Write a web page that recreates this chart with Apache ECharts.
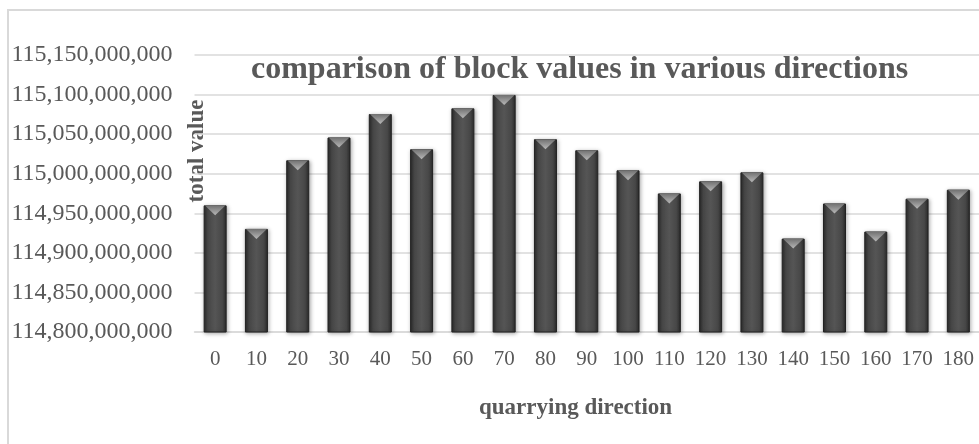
<!DOCTYPE html>
<html>
<head>
<meta charset="utf-8">
<script src="https://cdn.jsdelivr.net/npm/echarts@6/dist/echarts.min.js"></script>
<style>
html, body { margin: 0; padding: 0; background: #fff; }
#main { width: 979px; height: 444px; }
</style>
</head>
<body>
<div id="main"></div>
<script>
// quarrying directions (degrees)
var directions = ['0', '10', '20', '30', '40', '50', '60', '70', '80', '90',
	'100', '110', '120', '130', '140', '150', '160', '170', '180'];
// total block value per direction
var blockValues = [
	114960000000, 114930300000, 115017000000, 115045800000, 115075400000,
	115031000000, 115082600000, 115099500000, 115043700000, 115029700000,
	115004300000, 114975100000, 114990400000, 115001800000, 114918000000,
	114962400000, 114926900000, 114968400000, 114979800000
];
// value axis ticks
var yMin = 114800000000;
var yMax = 115150000000;
var yStep = 50000000;

var chartTitle = 'comparison of block values in various directions';
var xName = 'quarrying direction';
var yName = 'total value';

var serif = '"Liberation Serif", "Times New Roman", serif';
var textGray = '#595959';

var myChart = echarts.init(document.getElementById('main'));

var option = {
	backgroundColor: '#ffffff',
	animation: false,
	title: {
		text: chartTitle,
		left: 251,
		top: 54,
		padding: 0,
		textStyle: {
			fontFamily: serif,
			fontSize: 32,
			fontWeight: 'bold',
			color: textGray
		}
	},
	grid: {
		left: 194.5,
		top: 55,
		width: 792.2,
		height: 277,
		containLabel: false
	},
	xAxis: {
		type: 'category',
		data: directions,
		axisTick: { show: false },
		axisLine: { lineStyle: { color: '#d9d9d9', width: 1.5 } },
		axisLabel: {
			margin: 17,
			fontFamily: serif,
			fontSize: 21,
			color: textGray
		}
	},
	yAxis: {
		type: 'value',
		min: yMin,
		max: yMax,
		interval: yStep,
		axisLine: { show: false },
		axisTick: { show: false },
		splitLine: { lineStyle: { color: '#d9d9d9', width: 1.5 } },
		axisLabel: {
			margin: 22,
			fontFamily: serif,
			fontSize: 24,
			color: textGray,
			formatter: function (v) {
				return v.toLocaleString('en-US');
			}
		}
	},
	graphic: [
		{
			type: 'rect',
			silent: true,
			z: -10,
			shape: { x: 8, y: 10, width: 1200, height: 700 },
			style: { fill: 'none', stroke: '#d9d9d9', lineWidth: 2 }
		},
		{
			type: 'text',
			x: 197,
			y: 151,
			rotation: Math.PI / 2,
			style: {
				text: yName,
				fontFamily: serif,
				fontSize: 23,
				fontWeight: 'bold',
				fill: textGray,
				align: 'center',
				verticalAlign: 'middle'
			}
		},
		{
			type: 'text',
			x: 479,
			y: 408,
			style: {
				text: xName,
				fontFamily: serif,
				fontSize: 23,
				fontWeight: 'bold',
				fill: textGray,
				align: 'left',
				verticalAlign: 'middle'
			}
		}
	],
	series: [
		{
			name: yName,
			type: 'bar',
			data: blockValues,
			barWidth: 23,
			itemStyle: {
				color: new echarts.graphic.LinearGradient(0, 0, 1, 0, [
					{ offset: 0, color: '#2a2a2a' },
					{ offset: 0.18, color: '#474747' },
					{ offset: 0.5, color: '#555555' },
					{ offset: 0.82, color: '#474747' },
					{ offset: 1, color: '#2a2a2a' }
				]),
				borderColor: '#222222',
				borderWidth: 1,
				shadowBlur: 4,
				shadowColor: 'rgba(0,0,0,0.35)',
				shadowOffsetX: 1,
				shadowOffsetY: 1
			}
		},
		{
			// bevel on top of each bar
			name: 'bevel',
			type: 'pictorialBar',
			data: blockValues,
			symbol: 'triangle',
			symbolRotate: 180,
			symbolSize: [21, 10],
			symbolPosition: 'end',
			symbolOffset: [0, 0],
			z: 5,
			silent: true,
			itemStyle: {
				color: new echarts.graphic.LinearGradient(0, 0, 0, 1, [
					{ offset: 0, color: '#b8b8b8' },
					{ offset: 1, color: '#707070' }
				])
			}
		}
	]
};

myChart.setOption(option);
</script>
</body>
</html>
